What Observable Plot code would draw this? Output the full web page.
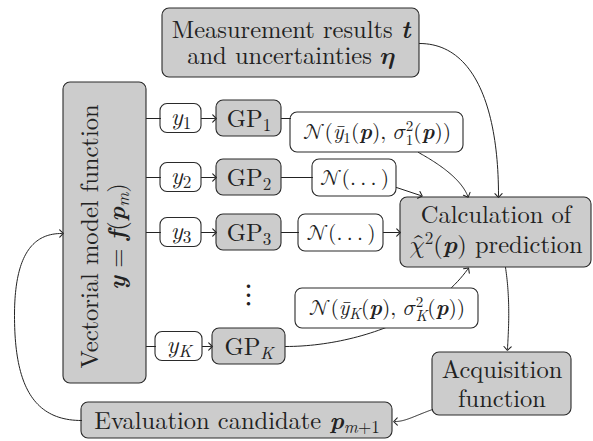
<!DOCTYPE html>
<html><head><meta charset="utf-8">
<script src="https://cdn.jsdelivr.net/npm/d3@7"></script>
<script src="https://cdn.jsdelivr.net/npm/@observablehq/plot@0.6"></script>
<style>body{margin:0;background:#fff}</style>
</head><body><div id="chart"></div><script>
// ---- Content ({i:..} italic, {b:..} bold italic, {m:..} math font, {_:..} sub, {^:..} sup, {<:..} sub under sup)
const measurementLines = ["Measurement results {b:t}", "and uncertainties {m:𝜼}"];
const modelLines = ["Vectorial model function", "{b:y} = {b:f}({b:p}{_:{i:m}})"];
const outputNames = ["{i:y}{_:1}", "{i:y}{_:2}", "{i:y}{_:3}", "{i:y}{_:{i:K}}"];
const surrogateNames = ["GP{_:1}", "GP{_:2}", "GP{_:3}", "GP{_:{i:K}}"];
const predictiveLabels = [
  "{m:𝒩}({i:ȳ}{_:1}({b:p}), {m:𝜎}{^:2}{<:1}({b:p}))",
  "{m:𝒩}(.\u2009.\u2009.\u2009)",
  "{m:𝒩}(.\u2009.\u2009.\u2009)",
  "{m:𝒩}({i:ȳ}{_:{i:K}}({b:p}), {m:𝜎}{^:2}{<:{i:K}}({b:p}))"
];
const calcLines = ["Calculation of", "{m:𝜒̂}{^:2}({b:p}) prediction"];
const acquisitionLines = ["Acquisition", "function"];
const candidateLines = ["Evaluation candidate {b:p}{_:{i:m}+1}"];
const ellipsis = ["⋮"];

// ---- Layout (pixel frame of the diagram)
const GRAY = "#cccccc", WHITE = "#ffffff", INK = "#222222";
const rowY = [118, 177, 232, 346];
const L = {
  meas: [162, 419, 8, 77],
  model: [63, 146, 82, 383],
  calc: [400, 591, 197, 267],
  acq: [432, 571, 352, 415],
  cand: [81, 392, 402, 438]
};
const outX = [[160, 201], [160, 201], [160, 201], [155, 202]];
const gpX = [[216, 281], [216, 281], [216, 281], [212, 285]];
const predB = [[290, 463, 112, 152], [312, 396, 159, 196], [298, 383, 214, 251], [295, 478, 288, 328]];
const predTextY = [132, 178, 233, 308];

// boxes
const rects = [];
const addBox = (id, b, fill) => rects.push({id, x1: b[0], x2: b[1], y1: b[2], y2: b[3], fill});
addBox("meas", L.meas, GRAY);
addBox("model", L.model, GRAY);
addBox("calc", L.calc, GRAY);
addBox("acq", L.acq, GRAY);
addBox("cand", L.cand, GRAY);
for (let k = 0; k < 4; k++) {
  addBox("out" + k, [outX[k][0], outX[k][1], rowY[k] - 14.5, rowY[k] + 14.5], WHITE);
  addBox("gp" + k, [gpX[k][0], gpX[k][1], rowY[k] - 18, rowY[k] + 18], GRAY);
  addBox("pred" + k, predB[k], WHITE);
}

// texts
const texts = [];
const cx = (b) => (b[0] + b[1]) / 2;
const MAIN = 24.5;
measurementLines.forEach((s, i) => texts.push({x: cx(L.meas), y: [29.5, 56][i], s, size: MAIN, rot: 0}));
modelLines.forEach((s, i) => texts.push({x: [90, 117][i], y: 236, s, size: MAIN, rot: -90}));
calcLines.forEach((s, i) => texts.push({x: cx(L.calc), y: [215, 245][i], s, size: MAIN, rot: 0}));
acquisitionLines.forEach((s, i) => texts.push({x: cx(L.acq), y: [370, 399][i], s, size: MAIN, rot: 0}));
candidateLines.forEach((s) => texts.push({x: cx(L.cand), y: 421, s, size: MAIN, rot: 0}));
for (let k = 0; k < 4; k++) {
  texts.push({x: cx(outX[k]), y: rowY[k] - 1, s: outputNames[k], size: MAIN, rot: 0});
  texts.push({x: cx(gpX[k]), y: rowY[k] + 1, s: surrogateNames[k], size: MAIN, rot: 0});
  texts.push({x: cx(predB[k]), y: predTextY[k], s: predictiveLabels[k], size: 21.5, rot: 0});
}
const dotsText = [{x: 248, y: 292.5, s: ellipsis[0]}];

// edges: segments are [p0,p1] straight or [p0,c1,c2,p3] cubic
function sample(segs, n = 48) {
  const pts = [];
  segs.forEach((s, si) => {
    if (s.length === 2) { if (si === 0) pts.push(s[0]); pts.push(s[1]); return; }
    for (let i = si === 0 ? 0 : 1; i <= n; i++) {
      const t = i / n, u = 1 - t;
      const a = u * u * u, b = 3 * u * u * t, c = 3 * u * t * t, d = t * t * t;
      pts.push([a * s[0][0] + b * s[1][0] + c * s[2][0] + d * s[3][0], a * s[0][1] + b * s[1][1] + c * s[2][1] + d * s[3][1]]);
    }
  });
  return pts;
}
const plain = [], arrows = [];
const push = (arr, id, segs) => sample(segs).forEach(([x, y]) => arr.push({id, x, y}));
for (let k = 0; k < 4; k++) {
  push(plain, "m" + k, [[[L.model[1], rowY[k]], [outX[k][0], rowY[k]]]]);
  push(arrows, "a" + k, [[[outX[k][1], rowY[k]], [gpX[k][0] - 2, rowY[k]]]]);
}
for (let k = 0; k < 3; k++) push(plain, "g" + k, [[[gpX[k][1], rowY[k]], [predB[k][0], rowY[k]]]]);
push(arrows, "p0", [[[418, 152], [438, 163], [460, 178], [467, 195]]]);
push(arrows, "p1", [[[396, 187], [420, 195]]]);
push(arrows, "p2", [[[383, 232], [398, 232]]]);
push(arrows, "meas", [[[419, 43], [475, 43], [498, 110], [498, 195]]]);
push(arrows, "calc", [[[505, 267], [510, 300], [508, 330], [507, 348]]]);
push(arrows, "acq", [[[432, 409], [415, 415], [405, 421], [395, 421]]]);
push(arrows, "loop", [[[81, 420], [30, 420], [14, 380], [14, 315]], [[14, 315], [14, 258], [30, 233], [61, 233]]]);
const underK = [];
push(underK, "gpK", [[[285, 346], [350, 346], [430, 320], [467, 269]]]);

const boxStyle = {x1: "x1", x2: "x2", y1: "y1", y2: "y2", fill: "fill", stroke: "#2a2a2a", strokeWidth: 1.1, rx: 7, ry: 7};
const chart = Plot.plot({
  width: 593, height: 441, margin: 0,
  x: {domain: [0, 593], range: [0, 593], axis: null},
  y: {domain: [0, 441], range: [0, 441], axis: null},
  marks: [
    Plot.rect(rects.filter(d => d.id !== "pred3"), boxStyle),
    Plot.line(plain, {x: "x", y: "y", z: "id", stroke: INK, strokeWidth: 1}),
    Plot.line(arrows, {x: "x", y: "y", z: "id", stroke: INK, strokeWidth: 1, markerEnd: "arrow"}),
    Plot.line(underK, {x: "x", y: "y", z: "id", stroke: INK, strokeWidth: 1, markerEnd: "arrow"}),
    Plot.rect(rects.filter(d => d.id === "pred3"), boxStyle),
    Plot.text(texts, {x: "x", y: "y", text: "s", fontSize: "size", rotate: "rot", fill: INK, fontFamily: "Latin Modern Roman"}),
    Plot.text(dotsText, {x: "x", y: "y", text: "s", fontSize: 32, fill: INK, fontFamily: "Latin Modern Math"})
  ]
});
document.getElementById("chart").appendChild(chart);

// arrowheads like TikZ "to"
chart.querySelectorAll("marker").forEach(m => {
  m.setAttribute("markerWidth", 12); m.setAttribute("markerHeight", 12); m.setAttribute("stroke-width", 0.9);
});

// rich text: turn markup into tspans
function parseRich(s) {
  const out = []; let pos = 0;
  (function walk(style) {
    let buf = "";
    const flush = () => { if (buf) out.push({text: buf, ...style}); buf = ""; };
    while (pos < s.length) {
      const c = s[pos];
      if (c === "{" && s.indexOf(":", pos) > pos) {
        const colon = s.indexOf(":", pos), tag = s.slice(pos + 1, colon);
        flush(); pos = colon + 1;
        const st = {...style};
        if (tag === "i") st.italic = true;
        else if (tag === "b") { st.italic = true; st.bold = true; }
        else if (tag === "m") st.math = true;
        else if (tag === "_") st.shift = "sub";
        else if (tag === "^") st.shift = "sup";
        else if (tag === "<") st.shift = "under";
        walk(st);
      } else if (c === "}") { flush(); pos++; return; }
      else { buf += c; pos++; }
    }
    flush();
  })({});
  return out;
}
function richify(el, src) {
  const fs = parseFloat(el.getAttribute("font-size") || getComputedStyle(el).fontSize);
  const segs = parseRich(src);
  while (el.firstChild) el.removeChild(el.firstChild);
  let cur = 0, supW = 0, prev = null;
  for (const sg of segs) {
    const t = document.createElementNS("http://www.w3.org/2000/svg", "tspan");
    t.textContent = sg.text;
    if (sg.italic) t.setAttribute("font-style", "italic");
    if (sg.bold) t.setAttribute("font-weight", "bold");
    if (sg.math) t.setAttribute("font-family", "Latin Modern Math");
    let target = 0;
    if (sg.shift) {
      t.setAttribute("font-size", (fs * 0.7).toFixed(2));
      target = sg.shift === "sup" ? -0.4 * fs : sg.shift === "under" ? 0.25 * fs : 0.16 * fs;
    }
    if (target !== cur) { t.setAttribute("dy", (target - cur).toFixed(2)); cur = target; }
    if (sg.shift === "under" && prev === "sup") t.setAttribute("dx", (-supW).toFixed(2));
    el.appendChild(t);
    const w = t.getComputedTextLength();
    if (sg.shift === "sup") supW = (prev === "sup" ? supW : 0) + w;
    prev = sg.shift || null;
  }
}
chart.querySelectorAll("text").forEach(el => {
  const s = el.textContent;
  if (s.includes("{")) richify(el, s);
});
</script></body></html>
